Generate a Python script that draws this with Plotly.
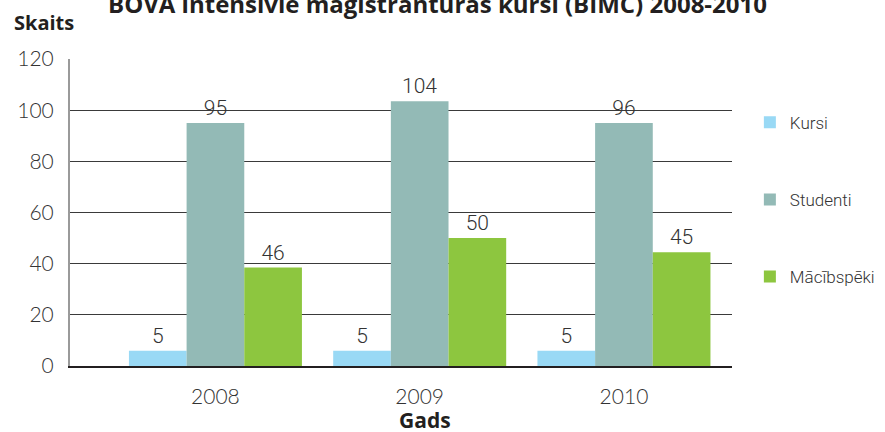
import plotly.graph_objects as go

# Data
years = [2008, 2009, 2010]
series_names = ["Kursi", "Studenti", "Mācībspēki"]

# bar heights as drawn in the picture
kursi = [6, 6, 6]
studenti = [95, 103.5, 95]
macibspeki = [38.5, 50, 44.5]

# numbers printed above the bars
kursi_labels = ["5", "5", "5"]
studenti_labels = ["95", "104", "96"]
macibspeki_labels = ["46", "50", "45"]

colors = ["#99d9f5", "#93bab6", "#8dc63f"]

LABEL_FONT = dict(family="Roboto, sans-serif", size=21, color="#333333", weight=300)
TICK_FONT = dict(family="Lato, Open Sans, sans-serif", size=21, color="#333333", weight=300)
BOLD = "Open Sans, sans-serif"

fig = go.Figure()
for name, vals, labels, col in zip(series_names,
                                   [kursi, studenti, macibspeki],
                                   [kursi_labels, studenti_labels, macibspeki_labels],
                                   colors):
    fig.add_trace(go.Bar(
        x=years, y=vals, name=name, legendgroup=name,
        marker=dict(color=col, line=dict(width=0)),
        text=labels, textposition="outside", cliponaxis=False,
        textfont=LABEL_FONT,
    ))

fig.update_layout(
    width=885, height=432,
    margin=dict(l=70, r=153, t=59, b=66, autoexpand=False),
    paper_bgcolor="white", plot_bgcolor="white",
    barmode="group", bargap=0.153, bargroupgap=0,
    legend=dict(x=1.027, y=0.851, xanchor="left", yanchor="top",
                font=dict(family="Roboto, sans-serif", size=17, color="#333333", weight=300),
                tracegroupgap=52, itemwidth=30, bgcolor="rgba(0,0,0,0)"),
    showlegend=True,
)

fig.update_xaxes(
    range=[2007.288, 2010.529],
    tickvals=years, ticktext=[str(y) for y in years],
    tickfont=TICK_FONT,
    ticks="outside", ticklen=11, tickcolor="rgba(0,0,0,0)",
    showgrid=False, zeroline=False,
    showline=True, linecolor="#231f20", linewidth=2,
)

fig.update_yaxes(
    range=[0, 120], dtick=20,
    tickfont=TICK_FONT,
    ticks="outside", ticklen=10, tickcolor="rgba(0,0,0,0)",
    showgrid=True, gridcolor="#3a3a3a", gridwidth=1,
    zeroline=False,
    showline=True, linecolor="#9a9a9a", linewidth=2, mirror=False,
)

# title (sits partly above the top edge, as in the source image)
fig.add_annotation(text="<b>BOVA intensīvie maģistrantūras kursi (BIMC) 2008-2010</b>",
                   xref="paper", yref="paper", x=0.555, y=1.182,
                   xanchor="center", yanchor="middle", showarrow=False,
                   font=dict(family=BOLD, size=24, color="#231f20"))

# axis captions
fig.add_annotation(text="<b>Skaits</b>", xref="paper", yref="paper", x=-0.087, y=1.12,
                   xanchor="left", yanchor="middle", showarrow=False,
                   font=dict(family=BOLD, size=20, color="#231f20"))
fig.add_annotation(text="<b>Gads</b>", xref="paper", yref="paper", x=0.536, y=-0.176,
                   xanchor="center", yanchor="middle", showarrow=False,
                   font=dict(family=BOLD, size=21, color="#231f20"))

# the page's default body margin would shift the figure by 8px
fig.write_html("out.html", config={"displayModeBar": False},
               post_script="document.body.style.margin='0';")
